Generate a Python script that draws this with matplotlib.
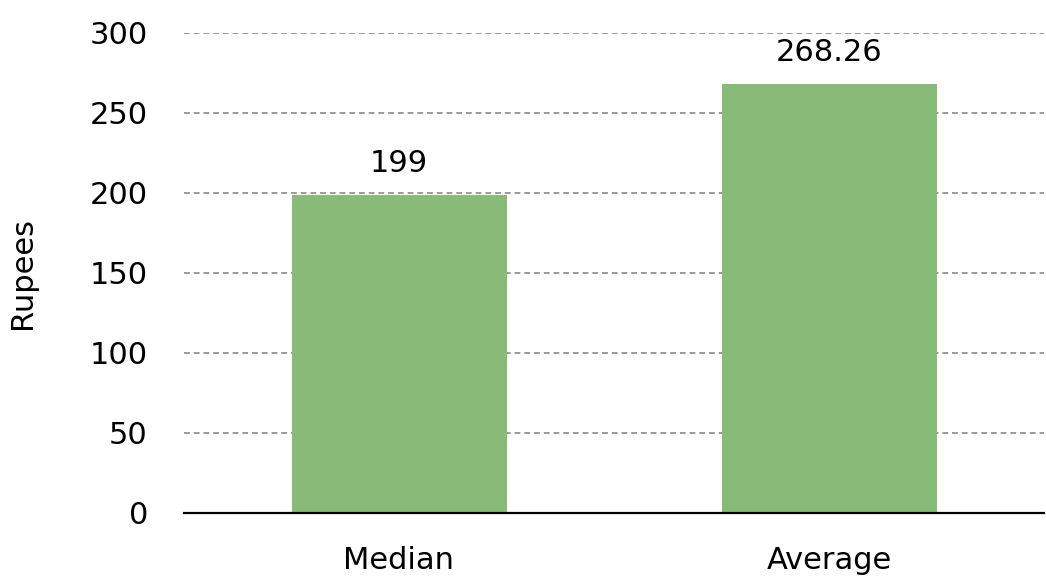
import matplotlib
matplotlib.use("Agg")
import matplotlib.pyplot as plt

categories = ["Median", "Average"]
values = [199, 268.26]
value_labels = ["199", "268.26"]
yticks = [0, 50, 100, 150, 200, 250, 300]

plt.rcParams['font.family'] = ['DejaVu Sans']

fig = plt.figure(figsize=(10.46, 5.82), dpi=100)
ax = fig.add_axes([184/1046, 69/582, 860/1046, 480/582])

x = range(len(categories))
ax.bar(x, values, width=0.5, color='#87BB77', zorder=2)
for xi, v, lab in zip(x, values, value_labels):
    ax.annotate(lab, (xi, v), xytext=(0, 12), textcoords='offset points',
                ha='center', va='bottom', fontsize=22, color='black')

ax.set_xlim(-0.5, 1.5)
ax.set_ylim(0, 300)
ax.set_yticks(yticks)
ax.set_yticklabels([str(t) for t in yticks])
ax.set_xticks(list(x))
ax.set_xticklabels(categories)
ax.tick_params(axis='y', length=0, pad=26, labelsize=22)
ax.tick_params(axis='x', length=0, pad=24, labelsize=22)
ax.yaxis.grid(True, linestyle=(0, (3, 2)), color='#9a9a9a', linewidth=1.4, zorder=0)
ax.set_axisbelow(True)
for s in ['top', 'right', 'left']:
    ax.spines[s].set_visible(False)
ax.spines['bottom'].set_color('black')
ax.spines['bottom'].set_linewidth(1.6)
ax.spines['bottom'].set_zorder(3)
ax.set_ylabel('Rupees', fontsize=22, labelpad=38)

fig.savefig('out.png', dpi=100)
